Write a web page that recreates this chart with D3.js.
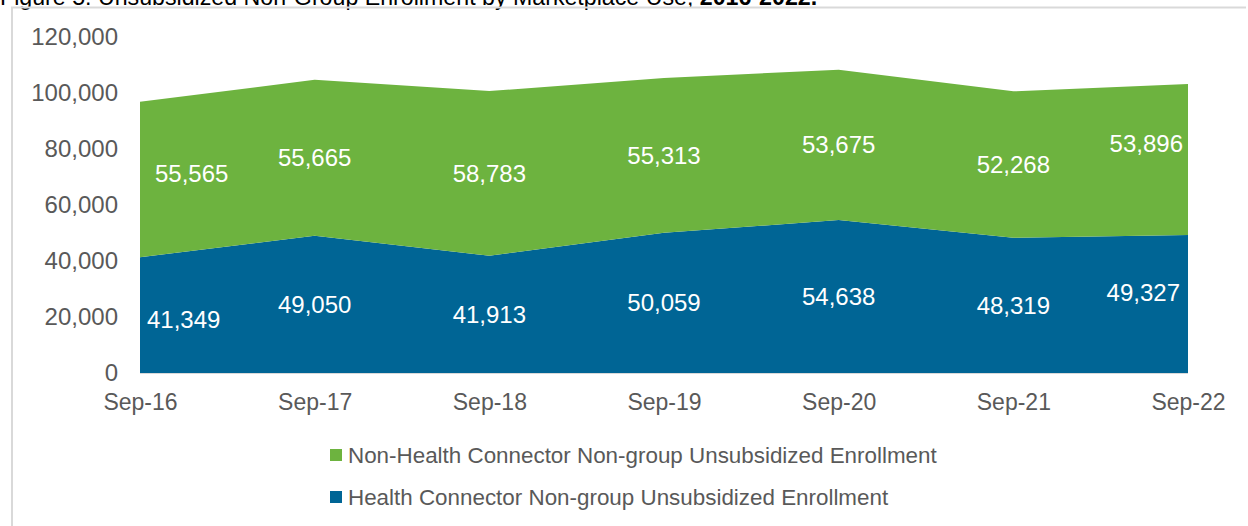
<!DOCTYPE html>
<html>
<head>
<meta charset="utf-8">
<script src="https://cdn.jsdelivr.net/npm/d3@7"></script>
<style>
  body { margin: 0; background: #fff; }
  svg { display: block; font-family: "Liberation Sans", Arial, sans-serif; }
</style>
</head>
<body>
<div id="chart"></div>
<script>
const periods = ['Sep-16', 'Sep-17', 'Sep-18', 'Sep-19', 'Sep-20', 'Sep-21', 'Sep-22'];
const hcEnrollment = [41349, 49050, 41913, 50059, 54638, 48319, 49327];
const nonHcEnrollment = [55565, 55665, 58783, 55313, 53675, 52268, 53896];
const yTicks = [0, 20000, 40000, 60000, 80000, 100000, 120000];
const seriesNames = [
  'Health Connector Non-group Unsubsidized Enrollment',
  'Non-Health Connector Non-group Unsubsidized Enrollment'
];
const colors = ['#006595', '#6db33f'];

const width = 1248, height = 526;
const svg = d3.select('#chart').append('svg')
  .attr('width', width)
  .attr('height', height);

// title, mostly cropped off the top (as in the source image)
svg.append('text')
  .attr('x', 0)
  .attr('y', 5)
  .style('font-size', '23.2px')
  .style('fill', '#000')
  .html('Figure 5: Unsubsidized Non-Group Enrollment by Marketplace Use, <tspan font-weight="bold">2016-2022.</tspan>');

// frame
svg.append('path')
  .attr('d', `M12,${height} V7.5 H1246`)
  .attr('fill', 'none')
  .attr('stroke', '#d9d9d9')
  .attr('stroke-width', 2);

const x = d3.scalePoint().domain(periods).range([140, 1188]);
const y = d3.scaleLinear().domain([0, 120000]).range([373, 37]);

const rows = periods.map((p, i) => ({ period: p, hc: hcEnrollment[i], nonhc: nonHcEnrollment[i] }));
const stacked = d3.stack().keys(['hc', 'nonhc'])(rows);

const area = d3.area()
  .x(d => x(d.data.period))
  .y0(d => y(d[0]))
  .y1(d => y(d[1]));

svg.selectAll('.layer')
  .data(stacked)
  .enter()
  .append('path')
  .attr('class', 'layer')
  .attr('d', area)
  .attr('fill', (d, i) => colors[i]);

// baseline
svg.append('line')
  .attr('x1', x(periods[0])).attr('x2', x(periods[periods.length - 1]))
  .attr('y1', y(0) + 0.5).attr('y2', y(0) + 0.5)
  .attr('stroke', '#d9d9d9')
  .attr('stroke-width', 1);

// y axis labels
const yAxis = svg.append('g')
  .attr('transform', 'translate(118,0)')
  .call(d3.axisLeft(y).tickValues(yTicks).tickSize(0).tickPadding(0).tickFormat(d3.format(',')));
yAxis.select('.domain').remove();
yAxis.selectAll('text')
  .style('font-size', '24px')
  .style('font-family', '"Liberation Sans", Arial, sans-serif')
  .attr('fill', '#595959');

// x axis labels
const xAxis = svg.append('g')
  .attr('transform', 'translate(0,394)')
  .call(d3.axisBottom(x).tickSize(0).tickPadding(0));
xAxis.select('.domain').remove();
xAxis.selectAll('text')
  .attr('dy', '0.71em')
  .style('font-size', '23px')
  .style('font-family', '"Liberation Sans", Arial, sans-serif')
  .attr('fill', '#595959');

// data labels (edge labels nudged inward like the spreadsheet does)
const fmt = d3.format(',');
const last = periods.length - 1;
stacked.forEach((layer, li) => {
  svg.selectAll(null)
    .data(layer)
    .enter()
    .append('text')
    .attr('x', d => x(d.data.period))
    .attr('y', (d, i) => {
      let yy = y((d[0] + d[1]) / 2);
      if (i === 0) yy += li === 0 ? 4 : -6;
      if (i === last) yy += li === 0 ? -11 : -16;
      return yy;
    })
    .attr('dy', '0.35em')
    .attr('text-anchor', (d, i) => i === 0 ? 'start' : (i === last ? 'end' : 'middle'))
    .attr('dx', (d, i) => i === 0 ? (li === 0 ? 7 : 15) : (i === last ? (li === 0 ? -8 : -5) : 0))
    .style('font-size', '24px')
    .attr('fill', '#fff')
    .text(d => fmt(d[1] - d[0]));
});

// legend
const legendItems = [
  { name: seriesNames[1], color: colors[1], y: 455 },
  { name: seriesNames[0], color: colors[0], y: 497 }
];
const legend = svg.selectAll('.legend')
  .data(legendItems)
  .enter()
  .append('g')
  .attr('class', 'legend')
  .attr('transform', d => `translate(330,${d.y})`);
legend.append('rect')
  .attr('x', 0).attr('y', -6)
  .attr('width', 12).attr('height', 12)
  .attr('fill', d => d.color);
legend.append('text')
  .attr('x', 18)
  .attr('dy', '0.35em')
  .style('font-size', '22.4px')
  .attr('fill', '#595959')
  .text(d => d.name);
</script>
</body>
</html>
